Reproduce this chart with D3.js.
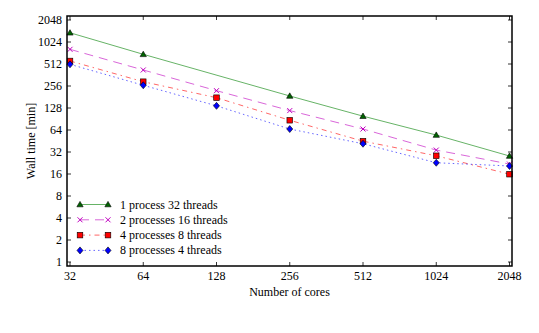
<!DOCTYPE html>
<html>
<meta charset="utf-8">
<style>
body { margin: 0; background: #fff; }
text { font-family: "Liberation Serif", serif; font-size: 12px; fill: #000; }
</style>
<body>
<svg width="539" height="333"></svg>
<script src="https://cdn.jsdelivr.net/npm/d3@7"></script>
<script>

var cores = [32, 64, 128, 256, 512, 1024, 2048];
var yTicks = [1, 2, 4, 8, 16, 32, 64, 128, 256, 512, 1024, 2048];

// null = no measurement at that core count
var p1t32 = [1370, 695, null, 187, 99, 54.6, 28.2];
var p2t16 = [813, 424, 221, 118, 66, 34, 21.9];
var p4t8  = [563, 293, 177, 87, 45, 28.4, 15.9];
var p8t4  = [507, 262, 137, 66, 41.5, 22.8, 20.6];

var seriesNames = ["1 process 32 threads", "2 processes 16 threads", "4 processes 8 threads", "8 processes 4 threads"];

var series = [
  {name: seriesNames[0], values: p1t32, color: "#008000", dash: null, marker: "tri"},
  {name: seriesNames[1], values: p2t16, color: "#bf00bf", dash: "9,6", marker: "x"},
  {name: seriesNames[2], values: p4t8,  color: "#ff0000", dash: "5,4,1.5,4", marker: "sq"},
  {name: seriesNames[3], values: p8t4,  color: "#0000ff", dash: "1.5,3", marker: "dia"}
];

var svg = d3.select("svg"),
    pL = 67, pR = 512, pT = 16, pB = 266;

var x = d3.scaleLog().base(2).domain([32, 2048]).range([70, 509.5]);
var pad = Math.pow(2, 4 / 22);
var y = d3.scaleLog().base(2).domain([1 / pad, 2048 * pad]).range([pB, pT]);

var fmt = function(d) { return d; };

// ticks, inward on all four sides
var g = svg.append("g");
g.selectAll(".xt").data(cores).enter().append("line")
    .attr("x1", function(d) { return x(d); }).attr("x2", function(d) { return x(d); })
    .attr("y1", pB).attr("y2", pB - 4)
    .attr("stroke", "#000").attr("stroke-width", 0.8);
g.selectAll(".xt2").data(cores).enter().append("line")
    .attr("x1", function(d) { return x(d); }).attr("x2", function(d) { return x(d); })
    .attr("y1", pT).attr("y2", pT + 4)
    .attr("stroke", "#000").attr("stroke-width", 0.8);
g.selectAll(".yt").data(yTicks).enter().append("line")
    .attr("x1", pL).attr("x2", pL + 4)
    .attr("y1", function(d) { return y(d); }).attr("y2", function(d) { return y(d); })
    .attr("stroke", "#000").attr("stroke-width", 0.8);
g.selectAll(".yt2").data(yTicks).enter().append("line")
    .attr("x1", pR).attr("x2", pR - 4)
    .attr("y1", function(d) { return y(d); }).attr("y2", function(d) { return y(d); })
    .attr("stroke", "#000").attr("stroke-width", 0.8);

g.selectAll(".xl").data(cores).enter().append("text")
    .attr("x", function(d) { return x(d); }).attr("y", 280)
    .attr("text-anchor", "middle").text(fmt);
g.selectAll(".yl").data(yTicks).enter().append("text")
    .attr("x", 62).attr("y", function(d) { return y(d) + 4; })
    .attr("text-anchor", "end").text(fmt);

svg.append("text").attr("x", (pL + pR) / 2).attr("y", 296)
    .attr("text-anchor", "middle").text("Number of cores");
svg.append("text").attr("transform", "translate(35," + ((pT + pB) / 2) + ") rotate(-90)")
    .attr("text-anchor", "middle").text("Wall time [min]");

function drawMarker(sel, s, cx, cy) {
  if (s.marker == "tri") {
    sel.append("path").attr("d", d3.symbol().type(d3.symbolTriangle).size(17)())
      .attr("transform", "translate(" + cx + "," + (cy + 0.5) + ")")
      .attr("fill", "#006400").attr("stroke", "#000").attr("stroke-width", 0.6);
  } else if (s.marker == "x") {
    sel.append("path").attr("d", "M-2.5,-2.5L2.5,2.5M-2.5,2.5L2.5,-2.5")
      .attr("transform", "translate(" + cx + "," + cy + ")")
      .attr("stroke", s.color).attr("stroke-width", 1);
  } else if (s.marker == "sq") {
    sel.append("rect").attr("x", cx - 2.8).attr("y", cy - 2.8).attr("width", 5.6).attr("height", 5.6)
      .attr("fill", s.color).attr("stroke", "#000").attr("stroke-width", 0.6);
  } else {
    sel.append("path").attr("d", "M0,-3.5L3,0L0,3.5L-3,0Z")
      .attr("transform", "translate(" + cx + "," + cy + ")")
      .attr("fill", s.color).attr("stroke", "#000").attr("stroke-width", 0.6);
  }
}

var line = d3.line()
    .x(function(d) { return x(d[0]); })
    .y(function(d) { return y(d[1]); });

series.forEach(function(s) {
  var pts = cores.map(function(c, i) { return [c, s.values[i]]; }).filter(function(d) { return d[1] != null; });
  var sg = svg.append("g");
  sg.append("path").datum(pts).attr("d", line)
    .attr("fill", "none").attr("stroke", s.color).attr("stroke-width", 1)
    .attr("stroke-opacity", 0.6)
    .attr("stroke-dasharray", s.dash);
  pts.forEach(function(d) { drawMarker(sg, s, x(d[0]), y(d[1])); });
});

// legend
var lg = svg.append("g");
series.forEach(function(s, i) {
  var ly = 204.5 + i * 15.3;
  lg.append("line").attr("x1", 80).attr("x2", 108).attr("y1", ly).attr("y2", ly)
    .attr("stroke", s.color).attr("stroke-width", 1).attr("stroke-opacity", 0.6)
    .attr("stroke-dasharray", s.dash);
  drawMarker(lg, s, 80, ly);
  drawMarker(lg, s, 108, ly);
  lg.append("text").attr("x", 120).attr("y", ly + 4).text(s.name);
});

// frame
svg.append("rect").attr("x", pL).attr("y", pT)
    .attr("width", pR - pL).attr("height", pB - pT)
    .attr("fill", "none").attr("stroke", "#000").attr("stroke-width", 1.5);

</script>
</body>
</html>
